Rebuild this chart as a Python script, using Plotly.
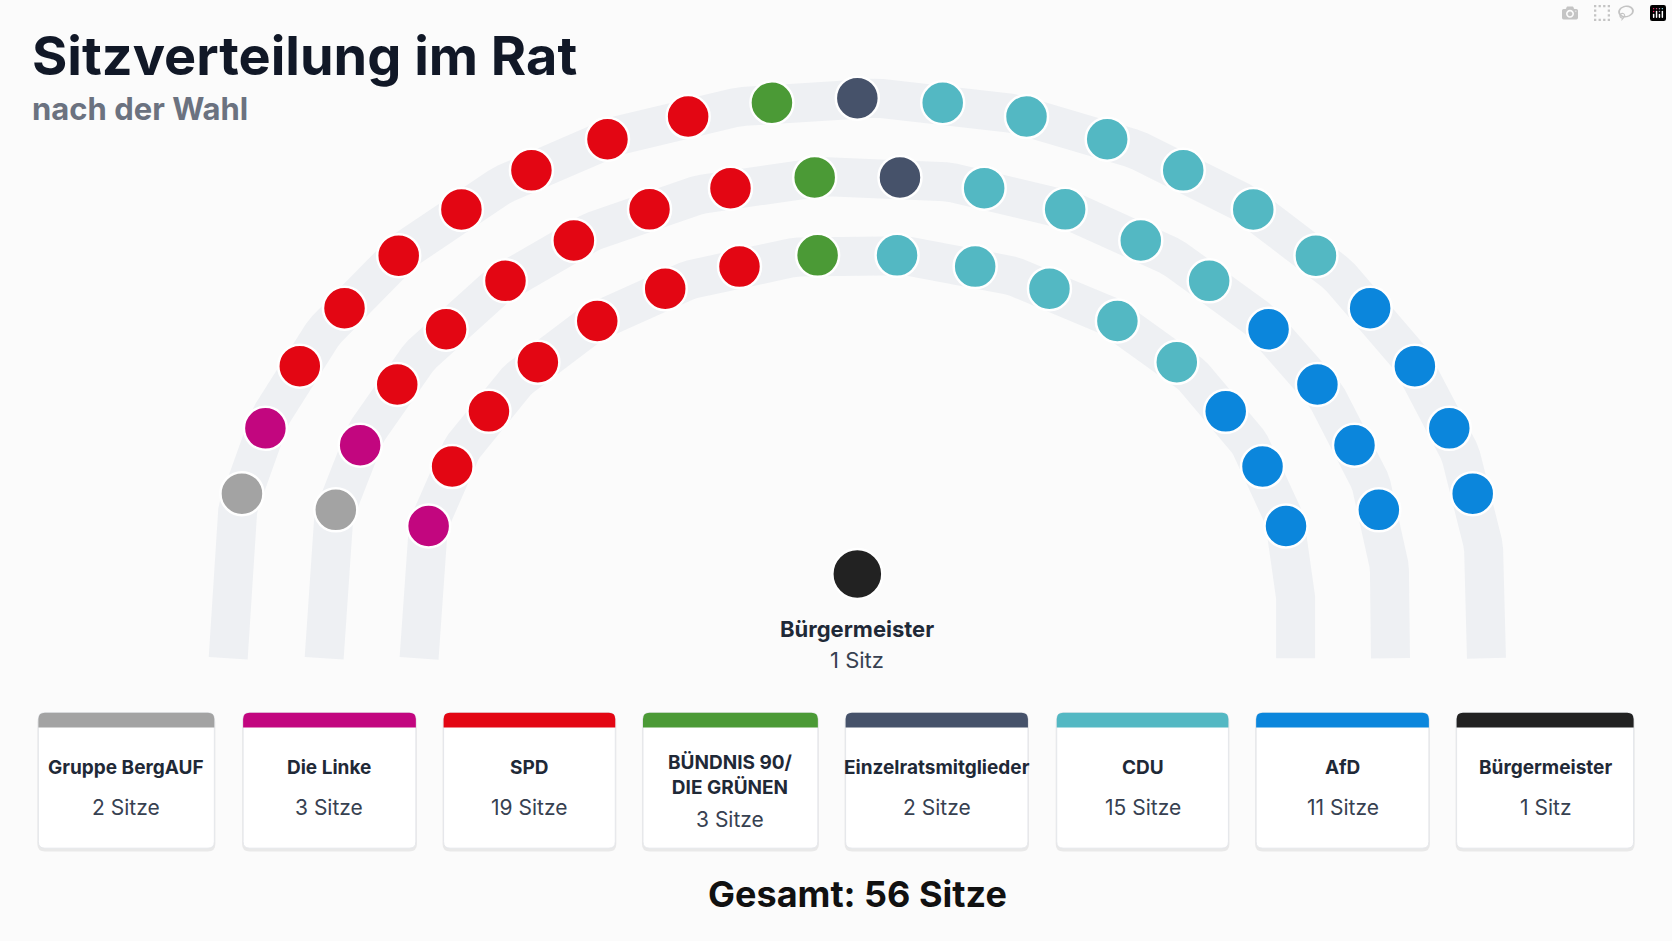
import numpy as np
import plotly.graph_objects as go

parties = ["Gruppe BergAUF", "Die Linke", "SPD", "BÜNDNIS 90/<br>DIE GRÜNEN",
           "Einzelratsmitglieder", "CDU", "AfD", "Bürgermeister"]
seats = [2, 3, 19, 3, 2, 15, 11, 1]
seat_labels = ["2 Sitze", "3 Sitze", "19 Sitze", "3 Sitze", "2 Sitze", "15 Sitze", "11 Sitze", "1 Sitz"]
colors = ["#a3a3a3", "#c2067f", "#e30613", "#4b9a36", "#46526a", "#53b8c3", "#0b86dc", "#222222"]

# seats of each party per row (outer, middle, inner), mayor excluded
row_outer = [1, 1, 7, 1, 1, 6, 4]
row_middle = [1, 1, 6, 1, 1, 4, 4]
row_inner = [0, 1, 6, 1, 0, 5, 3]
rows = [row_outer, row_middle, row_inner]
row_rx = [590, 500, 411]
row_ry = [468, 395, 322]

CX, CY = 804, 560
fig = go.Figure()

# grey bands behind the rows
for rx, ry in zip(row_rx, row_ry):
    t = np.linspace(np.pi, 0, 200)
    bx = np.concatenate([[CX - rx], CX + rx * np.cos(t), [CX + rx]])
    by = np.concatenate([[617], CY - ry * np.sin(t), [617]])
    fig.add_trace(go.Scatter(x=bx, y=by, mode="lines", hoverinfo="skip",
                             line=dict(color="#eef0f3", width=39), showlegend=False))

for counts, rx, ry in zip(rows, row_rx, row_ry):
    n = sum(counts)
    ang = np.radians(np.linspace(168, 12, n))
    cols = [c for c, k in zip(colors, counts) for _ in range(k)]
    fig.add_trace(go.Scatter(x=CX + rx * np.cos(ang), y=CY - ry * np.sin(ang), mode="markers",
                             marker=dict(size=43, color=cols, line=dict(color="white", width=2.5)),
                             showlegend=False, hoverinfo="skip"))

fig.add_trace(go.Scatter(x=[CX], y=[538], mode="markers", showlegend=False,
                         marker=dict(size=50, color=colors[-1], line=dict(color="white", width=2.5))))


def rrect(x0, y0, x1, y1, r):
    return (f"M{x0+r},{y0} L{x1-r},{y0} Q{x1},{y0} {x1},{y0+r} L{x1},{y1-r} Q{x1},{y1} {x1-r},{y1} "
            f"L{x0+r},{y1} Q{x0},{y1} {x0},{y1-r} L{x0},{y0+r} Q{x0},{y0} {x0+r},{y0} Z")


def toprect(x0, y0, x1, y1, r):
    return (f"M{x0+r},{y0} L{x1-r},{y0} Q{x1},{y0} {x1},{y0+r} L{x1},{y1} L{x0},{y1} "
            f"L{x0},{y0+r} Q{x0},{y0} {x0+r},{y0} Z")


card_x = [(36, 201), (228, 390), (416, 577), (603, 767), (793, 964), (991, 1152), (1178, 1340), (1366, 1532)]
shapes = []
ann = []
for (x0, x1), name, lab, col in zip(card_x, parties, seat_labels, colors):
    shapes.append(dict(type="path", path=rrect(x0 - 1, 670, x1 + 1, 798, 7), fillcolor="rgba(0,0,0,0.07)", line_width=0, layer="below"))
    shapes.append(dict(type="path", path=rrect(x0, 668, x1, 795, 6), fillcolor="white", line=dict(color="#e5e7eb", width=1), layer="below"))
    shapes.append(dict(type="path", path=toprect(x0, 668, x1, 682, 6), fillcolor=col, line_width=0, layer="below"))
    xm = (x0 + x1) / 2
    two = "<br>" in name
    ann.append(dict(x=xm, y=726 if two else 719, text=f"<b>{name}</b>", showarrow=False,
                    font=dict(size=19, color="#1f2937")))
    ann.append(dict(x=xm, y=768 if two else 757, text=lab, showarrow=False, font=dict(size=21, color="#374151")))

ann += [
    dict(x=28, y=52, text="<b>Sitzverteilung im Rat</b>", xanchor="left", showarrow=False,
         font=dict(size=54, color="#111827")),
    dict(x=28, y=102, text="<b>nach der Wahl</b>", xanchor="left", showarrow=False,
         font=dict(size=31, color="#6b7280")),
    dict(x=CX, y=590, text="<b>Bürgermeister</b>", showarrow=False, font=dict(size=22, color="#1f2937")),
    dict(x=CX, y=619, text="1 Sitz", showarrow=False, font=dict(size=22, color="#374151")),
    dict(x=CX, y=838, text=f"<b>Gesamt: {sum(seats)} Sitze</b>", showarrow=False, font=dict(size=36, color="#111111")),
]

fig.update_layout(
    width=1672, height=941, margin=dict(l=0, r=0, t=0, b=0),
    paper_bgcolor="#fbfbfb", plot_bgcolor="#fbfbfb",
    font=dict(family="Inter, Roboto, sans-serif"),
    xaxis=dict(range=[0, 1568], visible=False, fixedrange=True),
    yaxis=dict(range=[882, 0], visible=False, fixedrange=True),
    shapes=shapes, annotations=ann,
)
fig.write_html("out.html", post_script="document.body.style.margin='0';")
